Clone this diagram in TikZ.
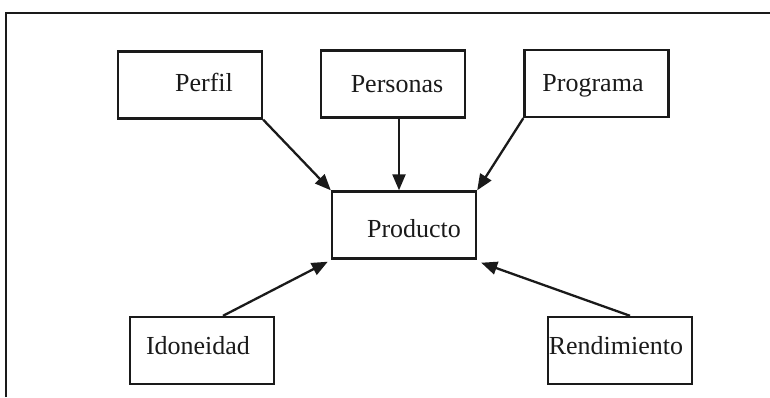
\documentclass[tikz,border=0pt]{standalone}
\usepackage{fontspec}
\setmainfont{Liberation Serif}
\usetikzlibrary{arrows.meta}
\newcommand\boxtext[3]{\raisebox{#2}{\hspace*{#1}#3}}
\definecolor{ink}{HTML}{1A1A1A}
\tikzset{
  box/.style={draw=ink, line width=2.4pt, minimum width=144pt, minimum height=67pt,
    inner sep=0pt, text height=17pt, text depth=5pt, text=ink,
    font=\fontsize{26}{31}\selectfont},
  conn/.style={draw=ink, line width=2.3pt, -{Triangle[length=16pt,width=13pt]}},
  frame/.style={draw=ink, line width=2.4pt}
}
\begin{document}
\begin{tikzpicture}[x=1pt,y=-1pt]
\useasboundingbox (0,0) rectangle (770,397);
\draw[frame] (6,397) -- (6,13) -- (770,13);
\node[box] (perfil) at (190,85) {\boxtext{28pt}{0pt}{Perfil}};
\node[box] (personas) at (393,84) {\boxtext{8pt}{-2pt}{Personas}};
\node[box] (programa) at (596.5,83.5) {\boxtext{-7pt}{-1.5pt}{Programa}};
\node[box] (producto) at (404,225) {\boxtext{20pt}{-6pt}{Producto}};
\node[box] (idoneidad) at (202,350.5) {\boxtext{-8pt}{2.5pt}{Idoneidad}};
\node[box] (rendimiento) at (620,350.5) {\boxtext{-8pt}{2pt}{Rendimiento}};
\draw[conn] (perfil.south east) -- (producto.north west);
\draw[conn] ([xshift=6pt]personas.south) -- ([xshift=-5pt]producto.north);
\draw[conn] (programa.south west) -- (producto.north east);
\draw[conn] ([xshift=21pt]idoneidad.north) -- ([xshift=-3pt,yshift=-2pt]producto.south west);
\draw[conn] ([xshift=10pt]rendimiento.north) -- ([xshift=4pt,yshift=-3pt]producto.south east);
\end{tikzpicture}
\end{document}
